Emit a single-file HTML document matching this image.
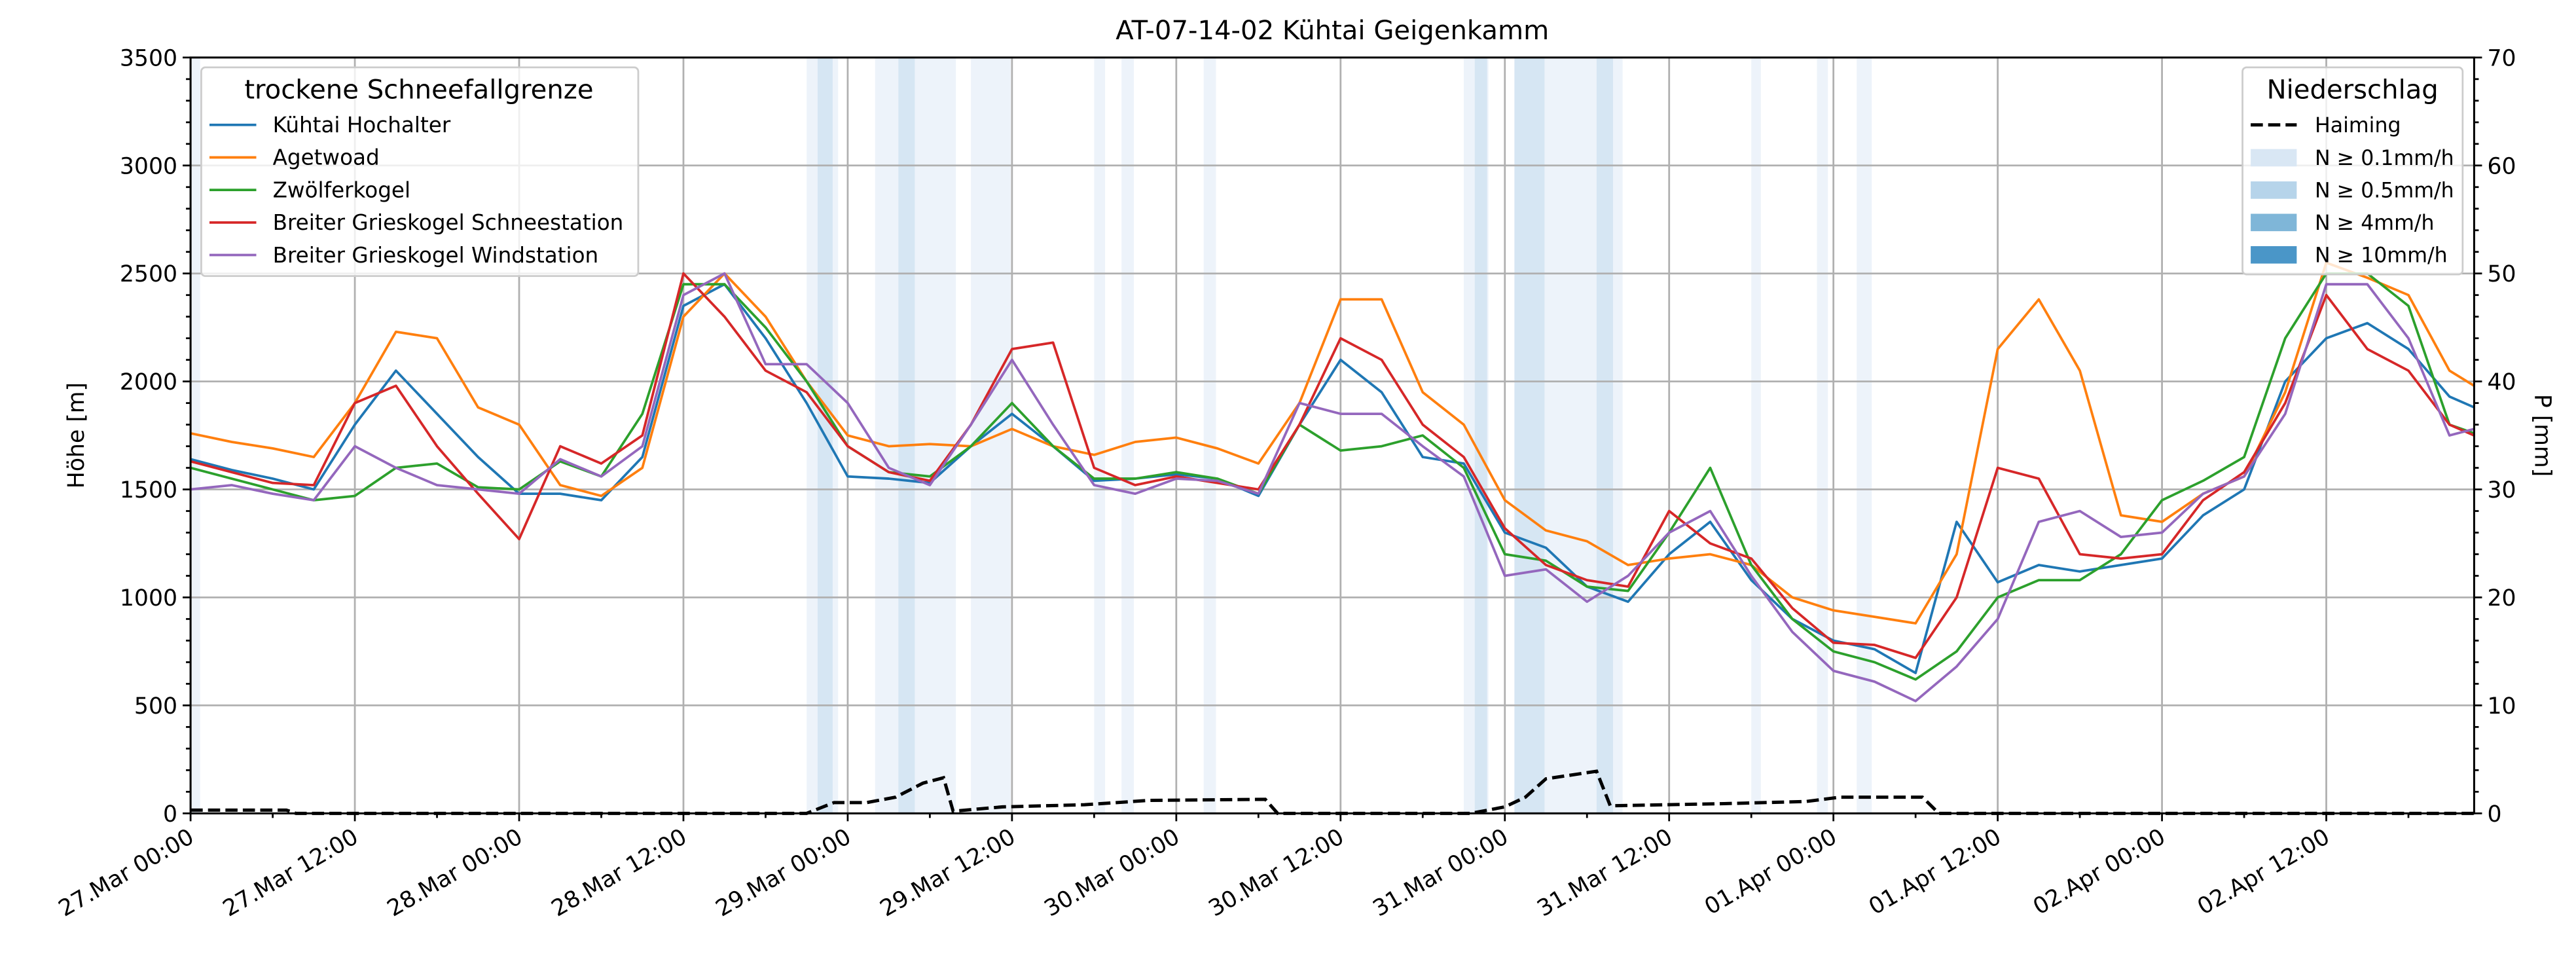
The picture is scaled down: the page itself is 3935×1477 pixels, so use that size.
<!DOCTYPE html>
<html><head><meta charset="utf-8"><style>
html,body{margin:0;padding:0;background:#fff;}
svg{display:block;font-family:"DejaVu Sans","Liberation Sans",sans-serif;}
</style></head><body>
<svg id="chart" width="3935" height="1477" viewBox="0 0 1568 588.5" preserveAspectRatio="none" xmlns="http://www.w3.org/2000/svg">
<rect width="1568" height="588.5" fill="#fff"/>
<g id="bands"></g><g id="grid"></g><g id="series"></g><g id="axes"></g><g id="legends"></g>
<text x="811" y="24" font-size="16" text-anchor="middle">AT-07-14-02 Kühtai Geigenkamm</text>
<text transform="translate(51,265) rotate(-90)" font-size="13.8" text-anchor="middle">Höhe [m]</text>
<text transform="translate(1543,265) rotate(90)" font-size="13.8" text-anchor="middle">P [mm]</text>
</svg>
<script>
const hours = [];
for (let h = 0; h <= 165; h += 3) hours.push(h);
hours.push(166.8);
const seriesNames = ["Kühtai Hochalter","Agetwoad","Zwölferkogel","Breiter Grieskogel Schneestation","Breiter Grieskogel Windstation"];
const seriesColors = ["#1f77b4","#ff7f0e","#2ca02c","#d62728","#9467bd"];
const kuehtai = [1640,1590,1550,1500,1800,2050,1850,1650,1480,1480,1450,1650,2350,2450,2200,1900,1560,1550,1530,1700,1850,1700,1540,1550,1570,1550,1470,1800,2100,1950,1650,1620,1300,1230,1050,980,1200,1350,1080,900,800,760,650,1350,1070,1150,1120,1150,1180,1380,1500,2000,2200,2270,2150,1930,1880];
const agetwoad = [1760,1720,1690,1650,1900,2230,2200,1880,1800,1520,1470,1600,2300,2500,2300,2000,1750,1700,1710,1700,1780,1700,1660,1720,1740,1690,1620,1900,2380,2380,1950,1800,1450,1310,1260,1150,1180,1200,1150,1000,940,910,880,1200,2150,2380,2050,1380,1350,1480,1560,1950,2550,2480,2400,2050,1980];
const zwoelfer = [1600,1550,1500,1450,1470,1600,1620,1510,1500,1630,1560,1850,2450,2450,2250,2000,1700,1580,1560,1700,1900,1700,1550,1550,1580,1550,1480,1800,1680,1700,1750,1600,1200,1170,1050,1030,1300,1600,1150,900,750,700,620,750,1000,1080,1080,1200,1450,1540,1650,2200,2500,2500,2350,1800,1760];
const schneestation = [1630,1580,1530,1520,1900,1980,1700,1480,1270,1700,1620,1750,2500,2300,2050,1950,1700,1580,1540,1800,2150,2180,1600,1520,1560,1530,1500,1800,2200,2100,1800,1650,1320,1150,1080,1050,1400,1250,1180,950,790,780,720,1000,1600,1550,1200,1180,1200,1450,1580,1900,2400,2150,2050,1800,1750];
const windstation = [1500,1520,1480,1450,1700,1600,1520,1500,1480,1640,1560,1700,2400,2500,2080,2080,1900,1600,1520,1800,2100,1800,1520,1480,1550,1540,1480,1900,1850,1850,1700,1560,1100,1130,980,1100,1300,1400,1100,840,660,610,520,680,900,1350,1400,1280,1300,1480,1560,1850,2450,2450,2200,1750,1780];
const precipHours = [0,7,7.7,45,47,49.4,51.5,53.5,55,55.7,59.3,65.3,70,78.5,79.4,93.5,96,97.5,99,102.7,103.7,112,118,120.5,126.5,127.7,166.8];
const precipValues = [0.3,0.3,0,0,1.0,1.0,1.5,2.8,3.3,0.2,0.6,0.8,1.2,1.3,0,0,0.6,1.5,3.2,3.9,0.7,0.9,1.1,1.5,1.5,0,0];
const bandStart = [0,45,45.8,50,51.7,57,66,68,74,93,93.8,96.7,96.7,102.7,114,118.8,121.7];
const bandEnd = [0.7,47.3,46.9,55.9,52.9,59.9,66.8,68.9,74.9,94.8,94.7,104.6,98.9,103.9,114.7,119.6,122.8];
const bandLevel = [1,1,2,1,2,1,1,1,1,1,2,1,2,2,1,1,1];
const yTicks = [0,500,1000,1500,2000,2500,3000,3500];
const y2Ticks = [0,10,20,30,40,50,60,70];
const xTickLabels = ["27.Mar 00:00","27.Mar 12:00","28.Mar 00:00","28.Mar 12:00","29.Mar 00:00","29.Mar 12:00","30.Mar 00:00","30.Mar 12:00","31.Mar 00:00","31.Mar 12:00","01.Apr 00:00","01.Apr 12:00","02.Apr 00:00","02.Apr 12:00"];

const L=116,R=1506,T=35,B=495, XMAX=166.8;
const NS='http://www.w3.org/2000/svg';
const xs=h=>L+(R-L)*h/XMAX;
const ys=v=>B-(B-T)*v/3500;
const ys2=v=>B-(B-T)*v/70;
function mk(tag,attrs,parent){const e=document.createElementNS(NS,tag);for(const k in attrs)e.setAttribute(k,attrs[k]);parent.appendChild(e);return e;}
const gB=document.getElementById('bands'),gG=document.getElementById('grid'),gS=document.getElementById('series'),gA=document.getElementById('axes'),gL=document.getElementById('legends');

bandStart.forEach((s,i)=>{
  const r=mk('rect',{x:xs(s),y:T,width:xs(bandEnd[i])-xs(s),height:B-T,fill:bandLevel[i]===1?'#edf3fa':'#d6e6f3'},gB);
  
  
});
xTickLabels.forEach((lab,i)=>{
  const x=xs(i*12);
  const g=mk('line',{x1:x,x2:x,y1:T,y2:B,stroke:'#b0b0b0','stroke-width':1.1},gG);
  
  
});
yTicks.forEach(v=>{
  const g=mk('line',{x1:L,x2:R,y1:ys(v),y2:ys(v),stroke:'#b0b0b0','stroke-width':1.1},gG);
  
  
});
const allSeries=[kuehtai,agetwoad,zwoelfer,schneestation,windstation];
allSeries.forEach((arr,si)=>{
  const p=mk('polyline',{points:arr.map((v,i)=>xs(hours[i])+','+ys(v)).join(' '),fill:'none',stroke:seriesColors[si],'stroke-width':1.5,'stroke-linejoin':'round'},gS);
  
  
});
const pl=mk('polyline',{points:precipHours.map((h,i)=>xs(h)+','+ys2(precipValues[i])).join(' '),fill:'none',stroke:'#000','stroke-width':2,'stroke-dasharray':'7.4,3.2'},gS);



const frame=mk('rect',{x:L,y:T,width:R-L,height:B-T,fill:'none',stroke:'#000','stroke-width':1.2},gA);


for(let v=0;v<=3500;v+=100){const maj=v%500===0;mk('line',{x1:L,x2:L-(maj?4.8:2.8),y1:ys(v),y2:ys(v),stroke:'#000','stroke-width':1.1},gA);}
for(let v=0;v<=70;v+=2){const maj=v%10===0;mk('line',{x1:R,x2:R+(maj?4.8:2.8),y1:ys2(v),y2:ys2(v),stroke:'#000','stroke-width':1.1},gA);}
for(let h=0;h<=XMAX;h+=6){const maj=h%12===0;mk('line',{x1:xs(h),x2:xs(h),y1:B,y2:B+(maj?4.8:2.8),stroke:'#000','stroke-width':1.1},gA);}
yTicks.forEach(v=>{const t=mk('text',{x:L-8,y:ys(v)+5,'font-size':13.8,'text-anchor':'end'},gA);t.textContent=v;
  
  });
y2Ticks.forEach(v=>{const t=mk('text',{x:R+8,y:ys2(v)+5,'font-size':13.8},gA);t.textContent=v;
  
  });
xTickLabels.forEach((lab,i)=>{const x=xs(i*12);const t=mk('text',{transform:'translate('+(x+3)+','+(B+17)+') rotate(-30)','font-size':13.8,'text-anchor':'end'},gA);t.textContent=lab;
  
  });

const lg1=mk('rect',{x:122.5,y:41,width:266,height:127,rx:2.5,fill:'#fff','fill-opacity':0.8,stroke:'#cccccc','stroke-width':1.1},gL);


let t=mk('text',{x:255,y:60,'font-size':16,'text-anchor':'middle'},gL);t.textContent='trockene Schneefallgrenze';


seriesNames.forEach((n,i)=>{const y=76+19.8*i;
  const l=mk('line',{x1:127.5,x2:156,y1:y,y2:y,stroke:seriesColors[i],'stroke-width':1.5},gL);
  
  
  const tx=mk('text',{x:166,y:y+4.5,'font-size':13},gL);tx.textContent=n;
  
  });
const lg2=mk('rect',{x:1365,y:41,width:134,height:126,rx:2.5,fill:'#fff','fill-opacity':0.8,stroke:'#cccccc','stroke-width':1.1},gL);


t=mk('text',{x:1432,y:60,'font-size':16,'text-anchor':'middle'},gL);t.textContent='Niederschlag';


const pl2=mk('line',{x1:1370,x2:1398,y1:76,y2:76,stroke:'#000','stroke-width':2,'stroke-dasharray':'7.4,3.2'},gL);


t=mk('text',{x:1409,y:80.5,'font-size':12.6},gL);t.textContent='Haiming';


const pLabels=['N ≥ 0.1mm/h','N ≥ 0.5mm/h','N ≥ 4mm/h','N ≥ 10mm/h'];
const pColors=['#d9e7f4','#b6d4ea','#7fb6d8','#4a96c8'];
pLabels.forEach((n,i)=>{const y=96+19.7*i;
  const r=mk('rect',{x:1370,y:y-5.3,width:28,height:10.6,fill:pColors[i]},gL);
  
  
  const tx=mk('text',{x:1409,y:y+4.5,'font-size':12.6},gL);tx.textContent=n;
  
  });
</script>
</body></html>
